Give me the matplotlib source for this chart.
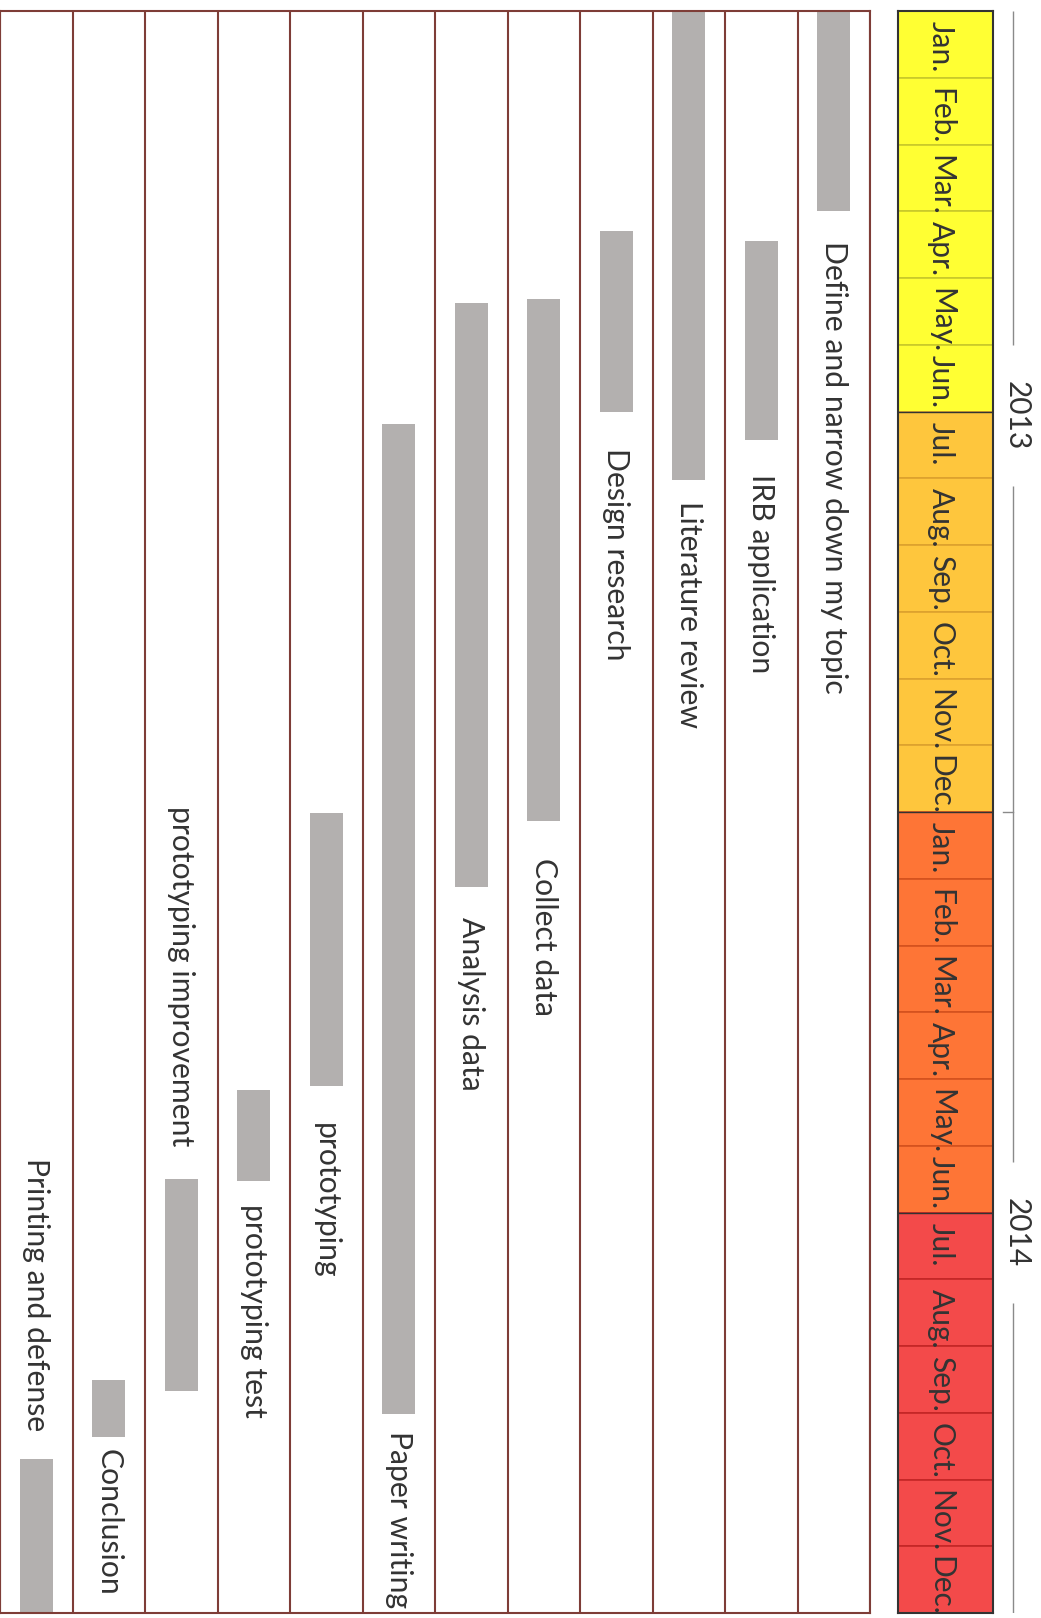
import matplotlib
matplotlib.use("Agg")
import matplotlib.pyplot as plt

plt.rcParams['font.family'] = ['Lato', 'DejaVu Sans']

# Tasks, in order (first task is drawn in the right-most lane)
tasks = [
    "Define and narrow down my topic",
    "IRB application",
    "Literature review",
    "Design research",
    "Collect data",
    "Analysis data",
    "Paper writing",
    "prototyping",
    "prototyping test",
    "prototyping improvement",
    "Conclusion",
    "Printing and defense",
]
# Start / end in months counted from Jan. 2013
task_start = [0.0, 3.45, 0.0, 3.3, 4.32, 4.37, 6.19, 12.02, 16.16, 17.5, 20.51, 21.7]
task_end = [3.0, 6.43, 7.02, 6.0, 12.14, 13.13, 21.02, 16.1, 17.53, 20.68, 21.36, 24.0]

month_names = ["Jan.", "Feb.", "Mar.", "Apr.", "May.", "Jun.",
               "Jul.", "Aug.", "Sep.", "Oct.", "Nov.", "Dec."] * 2
years = ["2013", "2014"]
year_label_pos = [6.06, 18.3]

# Label placement: side of the bar and spacing from it (in months)
label_side = ["after", "after", "after", "after", "after", "after",
              "after", "after", "after", "before", "after", "before"]
label_gap = [0.44, 0.5, 0.32, 0.54, 0.55, 0.44, 0.26, 0.56, 0.35, 0.5, 0.19, 0.42]

# Half-year colour bands and their divider colours
band_colors = ["#FFFF33", "#FEC63D", "#FE7536", "#F34A4A"]
band_edges = ["#C9C92A", "#DDA12E", "#D4521E", "#C42626"]

n_months = len(month_names)
n_tasks = len(tasks)

fig = plt.figure(figsize=(10.41, 16.18), dpi=100)
W, H = 1041.0, 1618.0
top_px, bot_px = 11.0, 1613.0

def rect(x0, x1):
    return [x0 / W, (H - bot_px) / H, (x1 - x0) / W, (bot_px - top_px) / H]

text_color = "#333333"
lane_color = "#7E3D37"
bar_color = "#B3B0AF"

# --- Gantt lanes ---------------------------------------------------------
ax = fig.add_axes(rect(0, 870))
ax.set_xlim(-0.5, n_tasks - 0.5)
ax.set_ylim(n_months, 0)
lane_x = [n_tasks - 1 - i for i in range(n_tasks)]
durations = [e - s for s, e in zip(task_start, task_end)]
ax.bar(lane_x, durations, bottom=task_start, width=0.455,
       color=bar_color, edgecolor="none", zorder=2)
for k in range(n_tasks + 1):
    ax.axvline(k - 0.5, color=lane_color, lw=1.5, zorder=3)
for x, name, s, e, side, g in zip(lane_x, tasks, task_start, task_end,
                                  label_side, label_gap):
    if side == "after":
        ax.text(x, e + g, name, rotation=-90, ha="center", va="top",
                fontsize=21.7, color=text_color)
    else:
        ax.text(x, s - g, name, rotation=-90, ha="center", va="bottom",
                fontsize=21.7, color=text_color)
for side in ["top", "bottom", "left", "right"]:
    ax.spines[side].set_color(lane_color)
    ax.spines[side].set_linewidth(1.5)
ax.set_xticks([])
ax.set_yticks([])

# --- Month strip ---------------------------------------------------------
ms = fig.add_axes(rect(898, 993))
ms.set_xlim(0, 1)
ms.set_ylim(n_months, 0)
for k, name in enumerate(month_names):
    band = k // 6
    ms.bar(0.5, 1, bottom=k, width=1, color=band_colors[band],
           edgecolor=band_edges[band], linewidth=1.2, zorder=1)
    ms.text(0.45, k + 0.15, name, rotation=-90, ha="center", va="top",
            fontsize=21.5, color=text_color, zorder=3)
for k in range(1, 4):
    ms.axhline(6 * k, color="#333333", lw=1.0, zorder=2)
for side in ["top", "bottom", "left", "right"]:
    ms.spines[side].set_color("#333333")
    ms.spines[side].set_linewidth(1.5)
ms.set_xticks([])
ms.set_yticks([])

# --- Year axis -----------------------------------------------------------
ya = fig.add_axes(rect(995, 1041))
ya.set_xlim(0, 1)
ya.set_ylim(n_months, 0)
ya.axis("off")
line_x = 0.39
half_gap = 1.05
seg_starts = [0.0] + [p + half_gap for p in year_label_pos]
seg_ends = [p - half_gap for p in year_label_pos] + [n_months]
for a, b in zip(seg_starts, seg_ends):
    ya.plot([line_x, line_x], [a, b], color="#8A8A8A", lw=1.0,
            solid_capstyle="butt")
ya.plot([0.17, line_x], [12, 12], color="#8A8A8A", lw=1.0)
for label, p in zip(years, year_label_pos):
    ya.text(0.46, p, label, rotation=-90, ha="center", va="center",
            fontsize=21.5, color=text_color)

fig.savefig("out.png", dpi=100, facecolor="white")
